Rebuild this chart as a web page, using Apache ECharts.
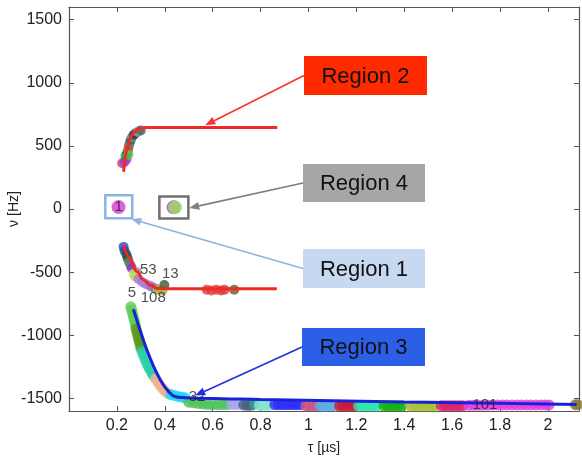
<!DOCTYPE html>
<html><head><meta charset="utf-8">
<script src="https://cdn.jsdelivr.net/npm/echarts@6/dist/echarts.min.js"></script>
<style>html,body{margin:0;padding:0;background:#fff}#c{width:582px;height:460px}</style>
</head><body><div id="c"></div>
<script>
// ---------- data ----------
const xTicks = [0.2, 0.4, 0.6, 0.8, 1, 1.2, 1.4, 1.6, 1.8, 2];
const yTicks = [-1500, -1000, -500, 0, 500, 1000, 1500];

// Region 2 (upper) measured points
const region2Points = [[0.222,362],[0.232,372],[0.240,392],[0.236,420],[0.243,445],[0.247,472],[0.250,500],[0.254,525],[0.258,548],[0.263,568],[0.270,586],[0.278,600],[0.286,610],[0.293,618],[0.300,622],[0.248,430]];
const region2Colors = ['#c04070','#9a40d8','#a040d0','#2a9a3a','#2a5a3a','#7a8a2a','#e03a3a','#20a090','#505050','#40c040','#2040d0','#303030','#e09030','#30c0e0','#606060','#60c060'];
const region2FitTau = [0.228, 0.242, 0.255, 0.269, 0.290, 0.318, 0.870];
const region2FitNu  = [295, 467, 560, 605, 635, 646, 646];

// Region 1 (isolated point) and Region 4 (isolated point)
const region1Points = [[0.207, 15]];
const region1Colors = ['#d63ad6'];
const region4Points = [[0.437, 13], [0.443, 13]];
const region4Colors = ['#9040d0', '#a6e060'];

// Lower branch (negative, near -640)
const lowerPoints = [[0.228,-300],[0.232,-330],[0.240,-360],[0.245,-390],[0.250,-420],[0.258,-450],[0.262,-470],[0.283,-500],[0.270,-515],[0.275,-535],[0.290,-555],[0.305,-578],[0.320,-594],[0.335,-605],[0.345,-615],[0.360,-630],[0.370,-640],[0.390,-648],[0.398,-602],
  [0.575,-640],[0.595,-645],[0.615,-640],[0.635,-645],[0.650,-640],[0.690,-640]];
const lowerColors = ['#1f4fd0','#2050a0','#1a5050','#204848','#30a040','#8a50d0','#7a40c0','#909090','#c8e070','#b8d860','#a57ae0','#a57ae0','#a57ae0','#a57ae0','#9a70d8','#7a7a9a','#b0b040','#a8b040','#2f5a3a',
  '#e23a3a','#e23a3a','#e23a3a','#e23a3a','#e23a3a','#6a5a2a'];
const lowerFitTau = [0.228, 0.250, 0.283, 0.310, 0.339, 0.367, 0.400, 0.868];
const lowerFitNu  = [-285, -380, -496, -560, -601, -627, -632, -632];

// Region 3 (bottom branch): one group of measured points per colour
const region3Groups = [
  [[0.258,-775],[0.262,-800],[0.266,-830],[0.270,-860],[0.274,-890],[0.277,-920]],
  [[0.280,-950],[0.284,-980],[0.288,-1010],[0.292,-1040],[0.296,-1070],[0.300,-1100]],
  [[0.305,-1130],[0.312,-1165],[0.320,-1200],[0.328,-1235],[0.336,-1265],[0.345,-1295],[0.353,-1320]],
  [[0.362,-1345],[0.372,-1375],[0.382,-1400],[0.392,-1425],[0.402,-1445],[0.412,-1460]],
  [[0.425,-1470],[0.440,-1478],[0.455,-1485],[0.470,-1490],[0.485,-1495]],
  [[0.500,-1530],[0.520,-1535],[0.540,-1540],[0.560,-1545],[0.580,-1548],[0.600,-1550],[0.620,-1550],[0.640,-1550],[0.660,-1550]],
  [[0.680,-1548],[0.695,-1548],[0.710,-1548]],
  [[0.730,-1552],[0.745,-1555],[0.760,-1555]],
  [[0.775,-1545]],
  [[0.795,-1555],[0.810,-1555],[0.825,-1555],[0.840,-1555]],
  [[0.860,-1550],[0.875,-1550],[0.890,-1550],[0.905,-1550],[0.920,-1550],[0.935,-1550],[0.950,-1550],[0.965,-1550]],
  [[0.990,-1560],[1.005,-1560],[1.020,-1560],[1.035,-1560]],
  [[1.050,-1560],[1.065,-1560],[1.080,-1560],[1.095,-1560],[1.110,-1560]],
  [[1.130,-1560],[1.145,-1560],[1.160,-1560],[1.175,-1560],[1.190,-1560]],
  [[1.210,-1560],[1.225,-1560],[1.240,-1560],[1.255,-1560],[1.270,-1560],[1.285,-1560]],
  [[1.315,-1560],[1.330,-1560],[1.345,-1560],[1.360,-1560],[1.375,-1560],[1.390,-1560]],
  [[1.425,-1560],[1.440,-1560],[1.455,-1560],[1.470,-1560],[1.485,-1560],[1.500,-1560],[1.515,-1560],[1.530,-1560]],
  [[1.555,-1558],[1.570,-1558],[1.585,-1558],[1.600,-1558],[1.615,-1558],[1.630,-1558],[1.645,-1558]],
  [[1.670,-1555],[1.690,-1555],[1.710,-1555],[1.730,-1555],[1.750,-1554],[1.770,-1553],[1.790,-1552],[1.810,-1552],[1.830,-1552],[1.850,-1552],[1.870,-1552],[1.890,-1552],[1.910,-1552],[1.930,-1552],[1.950,-1552],[1.970,-1552],[1.990,-1552],[2.005,-1552]],
  [[2.115,-1550],[2.125,-1550]]
];
const region3GroupColors = ['#5ccf50','#5a9a1a','#24cfa8','#f3b18d','#22d4f2','#4fc25e','#a9a7ee','#4a6080','#2aa090','#86e4cc',
  '#2e2efa','#cc5580','#5aaee3','#cc1a33','#2ee3ad','#12b312','#a8c33a','#e0206a','#e040e0','#8a7a35'];
const region3FitTau = [0.269, 0.325, 0.381, 0.430, 0.470, 0.800, 1.400, 2.120];
const region3FitNu  = [-794, -1115, -1353, -1472, -1493, -1508, -1528, -1548];

// point id labels
const labelTexts = ['1', '53', '13', '5', '108', '32', '101'];
const labelTau   = [0.207, 0.331, 0.423, 0.263, 0.352, 0.535, 1.737];
const labelNu    = [15, -483, -514, -667, -704, -1487, -1550];

// annotations
const regionNames = ['Region 2', 'Region 4', 'Region 1', 'Region 3'];
const arrowTipTau = [0.569, 0.502, 0.260, 0.527];
const arrowTipNu  = [664, 8, -79, -1478];
const markBoxTau = [0.208, 0.438];
const markBoxNu  = [18, 12];

// ---------- chart ----------
const chart = echarts.init(document.getElementById('c'), null, {renderer: 'canvas'});
const FONT = 'Liberation Sans, Arial, sans-serif';
function items(pts, cols) { return pts.map((p, i) => ({value: p, itemStyle: {color: cols[i]}})); }
function groupItems(groups, cols) {
  const out = [];
  groups.forEach((g, gi) => g.forEach(p => out.push({value: p, itemStyle: {color: cols[gi]}})));
  return out;
}
function zip(a, b) { return a.map((v, i) => [v, b[i]]); }

const axisCommon = {
  axisLine: {show: true, onZero: false, lineStyle: {color: '#555', width: 1.2}},
  splitLine: {show: false},
  nameMoveOverlap: false
};

chart.setOption({
  animation: false,
  grid: {left: 69, right: 3, top: 7, bottom: 49, containLabel: false, outerBoundsMode: 'none'},
  xAxis: [
    Object.assign({}, axisCommon, {
      type: 'value', min: 0, max: 2.13, position: 'bottom',
      name: 'τ [µs]', nameLocation: 'middle', nameGap: 30,
      nameTextStyle: {fontFamily: FONT, fontSize: 14, color: '#222'},
      axisTick: {show: true, inside: true, length: 5, customValues: xTicks, lineStyle: {color: '#555'}},
      axisLabel: {show: true, customValues: xTicks, formatter: v => String(v), fontFamily: FONT, fontSize: 16, color: '#222', margin: 7}
    }),
    Object.assign({}, axisCommon, {
      type: 'value', min: 0, max: 2.13, position: 'top',
      axisTick: {show: true, inside: true, length: 5, customValues: xTicks, lineStyle: {color: '#555'}},
      axisLabel: {show: false}
    })
  ],
  yAxis: [
    Object.assign({}, axisCommon, {
      type: 'value', min: -1600, max: 1600, position: 'left',
      name: 'ν [Hz]', nameLocation: 'middle', nameGap: 48, nameRotate: 90,
      nameTextStyle: {fontFamily: FONT, fontSize: 14, color: '#222'},
      axisTick: {show: true, inside: true, length: 5, customValues: yTicks, lineStyle: {color: '#555'}},
      axisLabel: {show: true, customValues: yTicks, formatter: v => String(v), fontFamily: FONT, fontSize: 16, color: '#222', margin: 7}
    }),
    Object.assign({}, axisCommon, {
      type: 'value', min: -1600, max: 1600, position: 'right',
      axisTick: {show: true, inside: true, length: 5, customValues: yTicks, lineStyle: {color: '#555'}},
      axisLabel: {show: false}
    })
  ],
  series: [
    {type: 'scatter', symbolSize: 11, z: 2, data: groupItems(region3Groups, region3GroupColors)},
    {type: 'scatter', symbolSize: 10, z: 2, data: items(region2Points, region2Colors)},
    {type: 'scatter', symbolSize: 10, z: 2, data: items(lowerPoints, lowerColors)},
    {type: 'scatter', symbolSize: 14, z: 2, data: items(region1Points, region1Colors)},
    {type: 'scatter', symbolSize: 14, z: 2, data: items(region4Points, region4Colors)},
    {type: 'line', z: 3, smooth: 0.4, smoothMonotone: 'x', symbol: 'none', lineStyle: {color: '#f02828', width: 3}, data: zip(region2FitTau, region2FitNu)},
    {type: 'line', z: 3, smooth: 0.4, smoothMonotone: 'x', symbol: 'none', lineStyle: {color: '#f02828', width: 3}, data: zip(lowerFitTau, lowerFitNu)},
    {type: 'line', z: 3, smooth: 0.3, symbol: 'none', lineStyle: {color: '#1a22d8', width: 3}, data: zip(region3FitTau, region3FitNu)},
    {type: 'scatter', z: 4, symbolSize: 1, itemStyle: {color: 'rgba(0,0,0,0)'},
      label: {show: true, position: 'inside', formatter: p => p.data[2], fontFamily: FONT, fontSize: 15, color: '#222'},
      data: labelTexts.map((t, i) => [labelTau[i], labelNu[i], t])}
  ]
});

// annotation boxes & arrows (layout in pixels, tips in data space)
const boxLayout = [
  {x: 304, y: 56, w: 123, h: 39, fill: '#ff2a00', line: '#ff3030'},
  {x: 303, y: 164, w: 122, h: 38, fill: '#a6a6a6', line: '#7f7f7f'},
  {x: 303, y: 249, w: 122, h: 39, fill: '#c6d9f1', line: '#8db3e2'},
  {x: 302, y: 328, w: 123, h: 38, fill: '#2a5fe6', line: '#2030e0'}
];
const graphics = [];
function arrow(x1, y1, x2, y2, color) {
  const ang = Math.atan2(y2 - y1, x2 - x1), L = 10, W = 4;
  const bx = x2 - L * Math.cos(ang), by = y2 - L * Math.sin(ang);
  const px = -Math.sin(ang) * W, py = Math.cos(ang) * W;
  graphics.push({type: 'line', z: 10, shape: {x1: x1, y1: y1, x2: bx, y2: by}, style: {stroke: color, lineWidth: 1.6}});
  graphics.push({type: 'polygon', z: 10, shape: {points: [[x2, y2], [bx + px, by + py], [bx - px, by - py]]}, style: {fill: color}});
}
const markSizes = [[27, 23, '#8db3e2'], [29, 22, '#707070']];
markBoxTau.forEach((t, i) => {
  const p = chart.convertToPixel({xAxisIndex: 0, yAxisIndex: 0}, [t, markBoxNu[i]]);
  const [w, h, c] = markSizes[i];
  graphics.push({type: 'rect', z: 9, shape: {x: p[0] - w / 2, y: p[1] - h / 2, width: w, height: h}, style: {fill: 'none', stroke: c, lineWidth: 2.5}});
});
regionNames.forEach((name, i) => {
  const b = boxLayout[i];
  graphics.push({type: 'rect', z: 11, shape: {x: b.x, y: b.y, width: b.w, height: b.h}, style: {fill: b.fill}});
  graphics.push({type: 'text', z: 12, x: b.x + b.w / 2, y: b.y + b.h / 2 + 1,
    style: {text: name, fill: '#111', font: '22px ' + FONT, align: 'center', verticalAlign: 'middle'}});
  const tip = chart.convertToPixel({xAxisIndex: 0, yAxisIndex: 0}, [arrowTipTau[i], arrowTipNu[i]]);
  arrow(b.x, b.y + b.h / 2, tip[0], tip[1], b.line);
});
chart.setOption({graphic: graphics});
</script></body></html>
